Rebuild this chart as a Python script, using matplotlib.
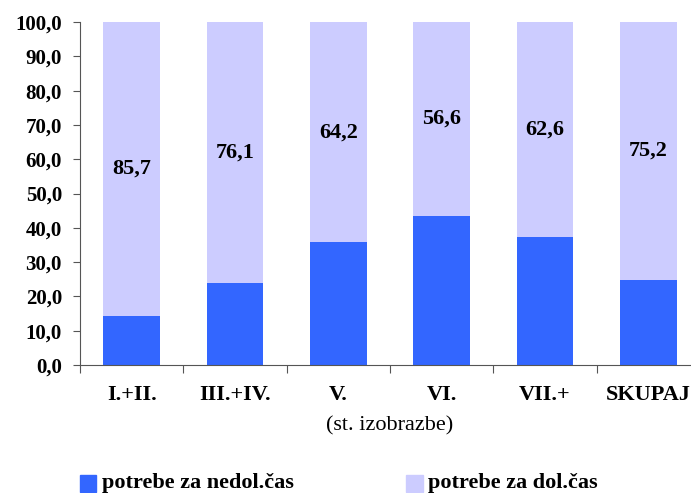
import matplotlib
matplotlib.use("Agg")
import matplotlib.pyplot as plt
from matplotlib.patches import Rectangle

categories = ["I.+II.", "III.+IV.", "V.", "VI.", "VII.+", "SKUPAJ"]
dol = [85.7, 76.1, 64.2, 56.6, 62.6, 75.2]
nedol = [round(100 - v, 1) for v in dol]
yticks = [0, 10, 20, 30, 40, 50, 60, 70, 80, 90, 100]
series_names = ["potrebe za nedol.čas", "potrebe za dol.čas"]
axis_title = "(st. izobrazbe)"
c_dark = "#3366FF"
c_light = "#CCCCFF"

plt.rcParams['font.family'] = ['Liberation Serif', 'DejaVu Serif']

W, H = 691, 493
fig = plt.figure(figsize=(W/100, H/100), dpi=100)
ax = fig.add_axes([80/W, 1-365/H, 620/W, 343/H])
x = list(range(len(categories)))
ax.bar(x, nedol, width=0.55, color=c_dark, zorder=2)
ax.bar(x, dol, bottom=nedol, width=0.55, color=c_light, zorder=2)
for xi, b, v in zip(x, nedol, dol):
    ax.text(xi, b + v/2, f"{v:.1f}".replace(".", ","), ha="center", va="center",
            fontsize=16, fontweight="bold")
ax.set_xlim(-0.5, len(categories) - 0.5)
ax.set_ylim(0, 100)
ax.set_yticks(yticks)
ax.set_yticklabels([f"{t:.1f}".replace(".", ",") for t in yticks], fontsize=15, fontweight="bold")
ax.set_xticks([i - 0.5 for i in range(len(categories))])
ax.set_xticklabels([])
ax.tick_params(axis="x", length=6, color="#555555")
ax.tick_params(axis="y", length=5, color="#555555", pad=8)
xt = ax.get_xaxis_transform()
for xi, c in zip(x, categories):
    ax.text(xi, -30/343, c, ha="center", va="center", fontsize=16, fontweight="bold",
            transform=xt)
ax.text(2.5, -61/343, axis_title, ha="center", va="center", fontsize=16,
        transform=xt)
for s in ["top", "right"]:
    ax.spines[s].set_visible(False)
ax.spines["left"].set_color("#555555")
ax.spines["bottom"].set_color("#555555")

# legend
fig.patches.append(Rectangle((80/W, 1-492/H), 16/W, 17/H, color=c_dark,
                             transform=fig.transFigure, figure=fig))
fig.text(102/W, 1-483/H, series_names[0], ha="left", va="center", fontsize=16,
         fontweight="bold")
fig.patches.append(Rectangle((406/W, 1-492/H), 17/W, 17/H, color=c_light,
                             transform=fig.transFigure, figure=fig))
fig.text(428/W, 1-483/H, series_names[1], ha="left", va="center", fontsize=16,
         fontweight="bold")

fig.savefig("out.png", dpi=100)
